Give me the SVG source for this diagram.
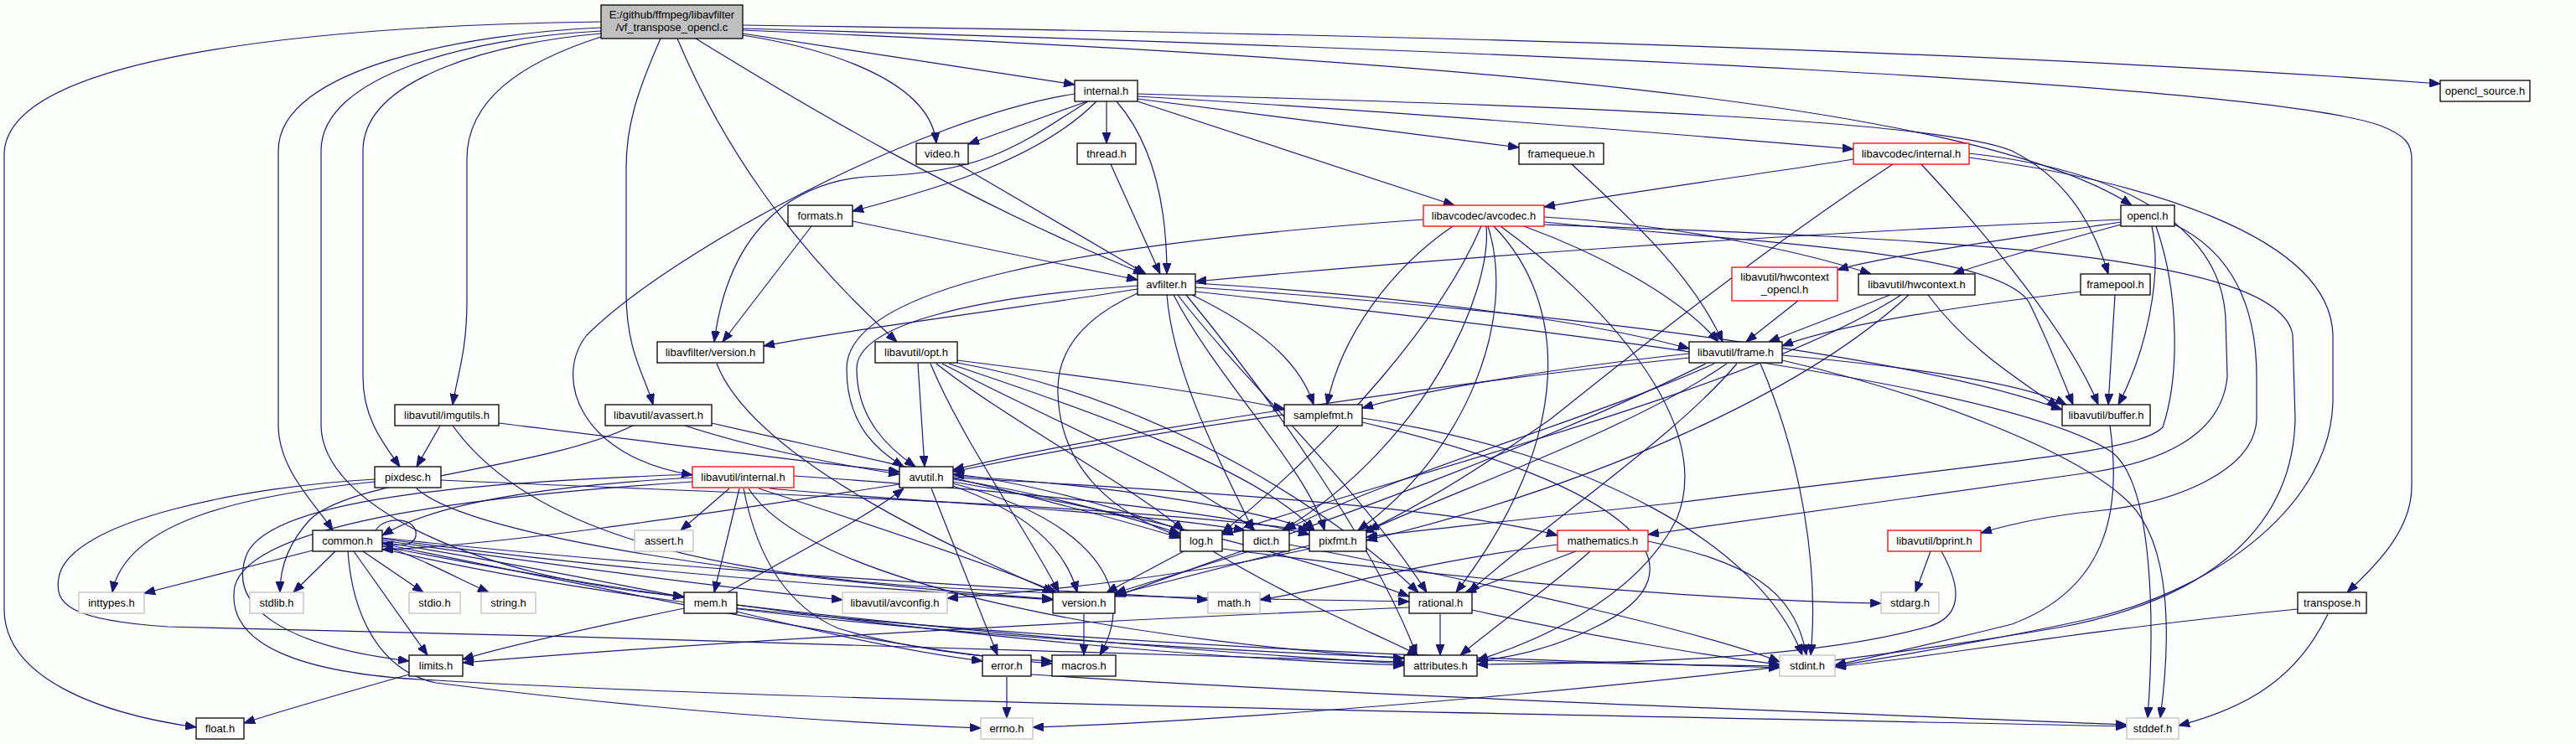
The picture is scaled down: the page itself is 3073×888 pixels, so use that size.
<svg xmlns="http://www.w3.org/2000/svg" width="3073" height="888" viewBox="0 0 3073 888">
<style>
.bg{fill:#fcfefc}
.e{fill:none;stroke:#191970;stroke-width:1.2;marker-end:url(#a)}
.n{fill:#ffffff;stroke:#000000;stroke-width:1.3}
.g{fill:#ffffff;stroke:#bfbfbf;stroke-width:1.3}
.r{fill:#ffffff;stroke:#ff0000;stroke-width:1.3}
.rt{fill:#bfbfbf;stroke:#000000;stroke-width:1.3}
text{font-family:"Liberation Sans",Arial,sans-serif;font-size:13px;fill:#000000;text-anchor:middle}
</style>
<defs>
<marker id="a" markerUnits="userSpaceOnUse" markerWidth="13" markerHeight="10" refX="13" refY="5" orient="auto">
<path d="M0,0 L13,5 L0,10 Z" fill="#191970" stroke="#191970" stroke-width="1"/>
</marker>
</defs>
<rect class="bg" x="0" y="0" width="3073" height="888"/>
<g id="connectors">
<path class="e" d="M717,26 C420,30 5,60 5,185 L5,727 C5,810 120,852 234,868"/>
<path class="e" d="M717,33 C560,40 332,80 332,180 L332,507 C332,560 375,600 397,633"/>
<path class="e" d="M717,40 C600,50 433,90 433,180 L433,450 C433,500 458,530 477,557"/>
<path class="e" d="M717,37 C560,45 383,90 383,180 L383,507 C383,600 560,690 816,712"/>
<path class="e" d="M717,44 C620,75 557,120 557,190 L557,360 C557,420 545,450 540,483"/>
<path class="e" d="M788,46 C760,110 747,150 747,200 L747,350 C747,420 770,450 779,483"/>
<path class="e" d="M808,46 C860,170 940,290 1070,408"/>
<path class="e" d="M830,46 C950,120 1150,240 1365,327"/>
<path class="e" d="M886,42 C1000,60 1110,100 1117,171"/>
<path class="e" d="M886,40 L1282,101"/>
<path class="e" d="M886,30 C1500,38 2300,55 2911,100"/>
<path class="e" d="M886,36 C1700,70 2350,120 2543,245"/>
<path class="e" d="M886,34 C1800,60 2700,100 2840,150 C2870,162 2877,172 2877,190 L2877,580 C2877,630 2840,670 2800,707"/>
<path class="e" d="M1357,115 C1700,135 2000,160 2211,178"/>
<path class="e" d="M1357,112 C1800,125 2300,140 2400,180 C2460,210 2495,260 2515,327"/>
<path class="e" d="M1357,118 L1812,176"/>
<path class="e" d="M1357,121 L1735,245"/>
<path class="e" d="M1320,121 L1320,171"/>
<path class="e" d="M1332,121 C1370,165 1392,230 1392,327"/>
<path class="e" d="M1297,121 L1155,172"/>
<path class="e" d="M1308,121 C1240,190 1120,225 1017,252"/>
<path class="e" d="M1298,121 C1220,170 1180,205 1050,210 C950,212 870,270 852,408"/>
<path class="e" d="M1282,112 C1100,140 800,300 700,400 C660,450 690,545 826,567"/>
<path class="e" d="M1143,196 L1367,327"/>
<path class="e" d="M1325,196 L1384,327"/>
<path class="e" d="M1017,264 L1357,334"/>
<path class="e" d="M968,270 L862,408"/>
<path class="e" d="M1875,196 C1950,265 2020,330 2055,408"/>
<path class="e" d="M2211,190 C2100,208 1950,228 1842,247"/>
<path class="e" d="M2258,196 C2100,300 1950,420 1850,500 C1750,570 1680,610 1632,633"/>
<path class="e" d="M2292,196 C2370,280 2470,400 2503,483"/>
<path class="e" d="M2349,183 C2550,205 2650,280 2655,380 L2657,450 C2650,520 2580,550 2500,563 C2300,590 2100,620 1966,638"/>
<path class="e" d="M2349,188 C2550,215 2780,280 2783,400 L2783,480 C2780,600 2650,700 2500,737 C2400,760 2250,785 2189,795"/>
<path class="e" d="M1698,262 C1300,290 1010,340 1010,440 C1010,510 1050,540 1078,557"/>
<path class="e" d="M1733,270 C1660,320 1600,400 1583,483"/>
<path class="e" d="M1767,270 C1720,380 1600,520 1458,636"/>
<path class="e" d="M1773,270 C1780,350 1700,530 1530,633"/>
<path class="e" d="M1775,270 C1810,380 1750,540 1620,633"/>
<path class="e" d="M1782,270 C1870,360 1880,520 1737,707"/>
<path class="e" d="M1790,270 C1900,350 2050,500 2000,620 C1950,720 1820,770 1762,788"/>
<path class="e" d="M1818,270 C1900,300 2000,350 2050,408"/>
<path class="e" d="M1842,259 C2000,268 2150,300 2232,327"/>
<path class="e" d="M1842,265 C2100,290 2380,300 2420,360 C2440,400 2460,450 2473,483"/>
<path class="e" d="M1842,268 C2300,285 2720,300 2735,400 L2738,500 C2735,640 2620,720 2450,750 C2100,810 1500,860 1232,868"/>
<path class="e" d="M2530,262 C2100,280 1700,310 1426,336"/>
<path class="e" d="M2530,265 C2400,285 2250,305 2192,322"/>
<path class="e" d="M2530,268 C2450,290 2380,310 2330,327"/>
<path class="e" d="M2567,270 C2580,330 2560,420 2527,483"/>
<path class="e" d="M2572,270 C2600,350 2600,450 2580,510 C2550,540 2400,550 2000,600 C1800,622 1700,632 1630,641"/>
<path class="e" d="M2594,268 C2660,300 2692,360 2692,450 L2692,500 C2690,560 2600,600 2500,610 C2450,615 2400,625 2363,636"/>
<path class="e" d="M1357,345 C1200,370 1000,395 911,413"/>
<path class="e" d="M1357,341 C1150,355 1022,390 1022,440 C1022,500 1060,535 1092,557"/>
<path class="e" d="M1357,350 C1290,380 1260,420 1262,470 C1265,560 1330,615 1408,640"/>
<path class="e" d="M1422,352 C1500,390 1550,430 1567,483"/>
<path class="e" d="M1392,352 C1400,450 1460,560 1495,633"/>
<path class="e" d="M1400,352 C1450,450 1560,560 1580,633"/>
<path class="e" d="M1405,352 C1480,450 1620,580 1702,707"/>
<path class="e" d="M1415,352 C1520,480 1640,650 1690,782"/>
<path class="e" d="M1426,338 C1700,355 1900,385 2015,416"/>
<path class="e" d="M1426,343 C1900,375 2300,430 2460,489"/>
<path class="e" d="M1426,348 C1900,400 2400,460 2520,540 C2570,580 2570,750 2562,857"/>
<path class="e" d="M2145,359 L2083,408"/>
<path class="e" d="M2255,352 L2110,408"/>
<path class="e" d="M2268,352 C2100,460 1700,560 1458,638"/>
<path class="e" d="M2277,352 C2150,470 1900,580 1630,645"/>
<path class="e" d="M2300,352 C2350,420 2420,460 2455,486"/>
<path class="e" d="M2523,352 L2515,483"/>
<path class="e" d="M2482,348 C2300,370 2180,392 2126,413"/>
<path class="e" d="M855,434 C900,550 1150,660 1257,707"/>
<path class="e" d="M1095,434 L1103,557"/>
<path class="e" d="M1142,430 C1300,450 1450,470 1532,488"/>
<path class="e" d="M1110,434 C1150,530 1230,640 1263,707"/>
<path class="e" d="M1117,434 C1200,500 1350,580 1412,633"/>
<path class="e" d="M1124,434 C1250,500 1420,570 1497,633"/>
<path class="e" d="M1132,434 C1300,490 1500,560 1568,633"/>
<path class="e" d="M1142,433 C1400,480 1600,620 1692,707"/>
<path class="e" d="M2126,424 C2300,440 2420,460 2465,483"/>
<path class="e" d="M2015,422 C1850,440 1700,465 1625,487"/>
<path class="e" d="M2015,427 C1700,460 1300,520 1137,561"/>
<path class="e" d="M2045,434 C1900,500 1650,570 1533,633"/>
<path class="e" d="M2060,434 C1950,510 1750,580 1626,636"/>
<path class="e" d="M2072,434 C2000,520 1850,620 1752,707"/>
<path class="e" d="M2035,434 C1800,550 1500,650 1330,712"/>
<path class="e" d="M2100,434 C2150,550 2170,680 2160,782"/>
<path class="e" d="M2126,430 C2300,470 2480,540 2540,600 C2590,650 2590,760 2577,857"/>
<path class="e" d="M525,508 L497,557"/>
<path class="e" d="M595,505 C800,530 950,550 1073,563"/>
<path class="e" d="M540,508 C620,620 800,680 1100,700 C1350,715 1550,715 1681,718"/>
<path class="e" d="M755,508 C650,560 420,570 370,620 C342,650 334,680 334,707"/>
<path class="e" d="M817,508 C900,535 1000,555 1073,566"/>
<path class="e" d="M849,505 C1000,540 1200,580 1408,642"/>
<path class="e" d="M1532,495 C1350,520 1200,550 1137,563"/>
<path class="e" d="M1625,499 C1900,540 2100,650 2150,782"/>
<path class="e" d="M1625,504 C1950,580 2050,680 1900,750 C1850,775 1800,785 1762,789"/>
<path class="e" d="M2517,508 C2530,600 2520,700 2400,745 C2300,770 2230,785 2189,794"/>
<path class="e" d="M447,575 C300,590 150,620 134,707"/>
<path class="e" d="M526,573 C900,590 1300,600 1562,633"/>
<path class="e" d="M497,583 C560,640 900,690 1256,715"/>
<path class="e" d="M447,572 C300,580 80,620 70,690 C65,720 80,740 200,748 C700,760 1300,775 1675,790"/>
<path class="e" d="M826,570 C650,580 520,600 456,639"/>
<path class="e" d="M870,583 L812,633"/>
<path class="e" d="M882,583 L852,707"/>
<path class="e" d="M918,583 C1100,600 1350,610 1485,633"/>
<path class="e" d="M905,583 C1050,630 1200,680 1260,707"/>
<path class="e" d="M893,583 C960,690 1300,760 1675,786"/>
<path class="e" d="M887,583 C900,650 930,720 1000,750 C1100,780 1200,786 1255,789"/>
<path class="e" d="M947,568 C1200,585 1450,610 1562,638"/>
<path class="e" d="M826,566 C600,575 330,590 295,660 C270,720 330,770 488,789"/>
<path class="e" d="M826,575 C600,590 300,620 280,700 C268,770 360,805 520,812 C1000,840 2000,855 2537,867"/>
<path class="e" d="M1073,578 C800,620 600,650 456,656"/>
<path class="e" d="M1111,583 L1190,782"/>
<path class="e" d="M1137,580 C1220,610 1270,650 1285,707"/>
<path class="e" d="M1137,577 C1300,620 1360,700 1312,782"/>
<path class="e" d="M1137,572 C1250,590 1350,618 1408,637"/>
<path class="e" d="M1137,575 C1400,620 1600,680 1681,712"/>
<path class="e" d="M1137,570 C1500,590 1750,610 1858,639"/>
<path class="e" d="M1137,568 C1350,580 1500,610 1566,633"/>
<path class="e" d="M1410,633 C1300,595 1200,572 1137,566"/>
<path class="e" d="M1412,658 L1320,707"/>
<path class="e" d="M1447,658 C1550,720 1650,760 1692,782"/>
<path class="e" d="M1458,655 C1800,700 2100,718 2244,720"/>
<path class="e" d="M1490,658 L1330,708"/>
<path class="e" d="M1538,650 C1800,700 2050,760 2123,790"/>
<path class="e" d="M1562,655 C1400,690 1250,705 1130,714"/>
<path class="e" d="M1566,650 C1450,680 1380,697 1330,710"/>
<path class="e" d="M1858,650 C1700,670 1600,700 1503,716"/>
<path class="e" d="M1880,658 L1748,707"/>
<path class="e" d="M1897,658 C1850,700 1780,750 1742,782"/>
<path class="e" d="M1966,646 C2080,670 2140,700 2155,782"/>
<path class="e" d="M2303,658 L2285,707"/>
<path class="e" d="M2316,658 C2345,710 2335,738 2300,748 C2150,790 1900,792 1762,793"/>
<path class="e" d="M816,726 C700,750 600,772 552,787"/>
<path class="e" d="M868,707 C950,660 1030,620 1078,583"/>
<path class="e" d="M879,722 C1200,760 1500,782 1675,792"/>
<path class="e" d="M879,726 C1400,778 1900,790 2123,797"/>
<path class="e" d="M879,730 C1000,760 1100,780 1172,789"/>
<path class="e" d="M448,633 C460,614 500,618 496,640 C493,652 475,652 456,648"/>
<path class="e" d="M373,657 L172,708"/>
<path class="e" d="M400,658 L350,707"/>
<path class="e" d="M422,658 L510,782"/>
<path class="e" d="M433,658 L505,707"/>
<path class="e" d="M415,658 C420,730 450,800 520,815 C800,850 1000,862 1170,869"/>
<path class="e" d="M456,651 C500,665 545,690 583,707"/>
<path class="e" d="M456,647 C600,670 750,700 816,713"/>
<path class="e" d="M456,645 C700,680 900,705 1005,716"/>
<path class="e" d="M456,643 C800,690 1100,705 1256,716"/>
<path class="e" d="M456,642 C900,690 1300,705 1441,716"/>
<path class="e" d="M456,649 C800,720 1100,780 1255,792"/>
<path class="e" d="M456,652 C900,740 1400,785 1675,794"/>
<path class="e" d="M456,655 C900,760 1600,790 2123,795"/>
<path class="e" d="M1718,733 L1718,782"/>
<path class="e" d="M1681,725 C1200,745 800,770 552,791"/>
<path class="e" d="M1756,728 C1900,760 2050,785 2123,793"/>
<path class="e" d="M1293,733 L1293,782"/>
<path class="e" d="M1201,808 L1201,857"/>
<path class="e" d="M1230,805 C1600,830 2300,855 2537,865"/>
<path class="e" d="M488,805 C400,830 330,850 291,863"/>
<path class="e" d="M2741,727 C2500,750 2300,785 2189,796"/>
<path class="e" d="M2777,733 C2740,810 2680,845 2599,866"/>
</g>
<g id="root"><rect class="rt" x="717" y="6" width="169" height="40"/><text x="801.5" y="22">E:/github/ffmpeg/libavfilter</text><text x="801.5" y="37">/vf_transpose_opencl.c</text></g>
<g id="internal_h"><rect class="n" x="1282" y="96" width="75" height="25"/><text x="1319.5" y="113">internal.h</text></g>
<g id="opencl_source_h"><rect class="n" x="2911" y="96" width="107" height="25"/><text x="2964.5" y="113">opencl_source.h</text></g>
<g id="video_h"><rect class="n" x="1093" y="171" width="62" height="25"/><text x="1124" y="188">video.h</text></g>
<g id="thread_h"><rect class="n" x="1285" y="171" width="70" height="25"/><text x="1320" y="188">thread.h</text></g>
<g id="framequeue_h"><rect class="n" x="1812" y="171" width="101" height="25"/><text x="1862.5" y="188">framequeue.h</text></g>
<g id="lavc_internal_h"><rect class="r" x="2211" y="171" width="138" height="25"/><text x="2280" y="188">libavcodec/internal.h</text></g>
<g id="formats_h"><rect class="n" x="940" y="245" width="77" height="25"/><text x="978.5" y="262">formats.h</text></g>
<g id="avcodec_h"><rect class="r" x="1698" y="245" width="144" height="25"/><text x="1770" y="262">libavcodec/avcodec.h</text></g>
<g id="opencl_h"><rect class="n" x="2530" y="245" width="64" height="25"/><text x="2562" y="262">opencl.h</text></g>
<g id="avfilter_h"><rect class="n" x="1357" y="327" width="69" height="25"/><text x="1391.5" y="344">avfilter.h</text></g>
<g id="hwcontext_opencl_h"><rect class="r" x="2066" y="319" width="126" height="40"/><text x="2129" y="335">libavutil/hwcontext</text><text x="2129" y="350">_opencl.h</text></g>
<g id="hwcontext_h"><rect class="n" x="2217" y="327" width="139" height="25"/><text x="2286.5" y="344">libavutil/hwcontext.h</text></g>
<g id="framepool_h"><rect class="n" x="2482" y="327" width="83" height="25"/><text x="2523.5" y="344">framepool.h</text></g>
<g id="lavfi_version_h"><rect class="n" x="784" y="408" width="127" height="25"/><text x="847.5" y="425">libavfilter/version.h</text></g>
<g id="opt_h"><rect class="n" x="1044" y="408" width="98" height="25"/><text x="1093" y="425">libavutil/opt.h</text></g>
<g id="frame_h"><rect class="n" x="2015" y="408" width="111" height="25"/><text x="2070.5" y="425">libavutil/frame.h</text></g>
<g id="imgutils_h"><rect class="n" x="471" y="483" width="124" height="25"/><text x="533" y="500">libavutil/imgutils.h</text></g>
<g id="avassert_h"><rect class="n" x="722" y="483" width="127" height="25"/><text x="785.5" y="500">libavutil/avassert.h</text></g>
<g id="samplefmt_h"><rect class="n" x="1532" y="483" width="93" height="25"/><text x="1578.5" y="500">samplefmt.h</text></g>
<g id="buffer_h"><rect class="n" x="2460" y="483" width="105" height="25"/><text x="2512.5" y="500">libavutil/buffer.h</text></g>
<g id="pixdesc_h"><rect class="n" x="447" y="557" width="79" height="25"/><text x="486.5" y="574">pixdesc.h</text></g>
<g id="lavu_internal_h"><rect class="r" x="826" y="557" width="121" height="25"/><text x="886.5" y="574">libavutil/internal.h</text></g>
<g id="avutil_h"><rect class="n" x="1073" y="557" width="64" height="25"/><text x="1105" y="574">avutil.h</text></g>
<g id="common_h"><rect class="n" x="373" y="633" width="83" height="25"/><text x="414.5" y="650">common.h</text></g>
<g id="assert_h"><rect class="g" x="757" y="633" width="70" height="25"/><text x="792" y="650">assert.h</text></g>
<g id="log_h"><rect class="n" x="1408" y="633" width="50" height="25"/><text x="1433" y="650">log.h</text></g>
<g id="dict_h"><rect class="n" x="1483" y="633" width="55" height="25"/><text x="1510.5" y="650">dict.h</text></g>
<g id="pixfmt_h"><rect class="n" x="1562" y="633" width="68" height="25"/><text x="1596" y="650">pixfmt.h</text></g>
<g id="mathematics_h"><rect class="r" x="1858" y="633" width="108" height="25"/><text x="1912" y="650">mathematics.h</text></g>
<g id="bprint_h"><rect class="r" x="2252" y="633" width="111" height="25"/><text x="2307.5" y="650">libavutil/bprint.h</text></g>
<g id="inttypes_h"><rect class="g" x="94" y="707" width="78" height="25"/><text x="133" y="724">inttypes.h</text></g>
<g id="stdlib_h"><rect class="g" x="298" y="707" width="64" height="25"/><text x="330" y="724">stdlib.h</text></g>
<g id="stdio_h"><rect class="g" x="488" y="707" width="61" height="25"/><text x="518.5" y="724">stdio.h</text></g>
<g id="string_h"><rect class="g" x="574" y="707" width="65" height="25"/><text x="606.5" y="724">string.h</text></g>
<g id="mem_h"><rect class="n" x="816" y="707" width="63" height="25"/><text x="847.5" y="724">mem.h</text></g>
<g id="avconfig_h"><rect class="g" x="1005" y="707" width="125" height="25"/><text x="1067.5" y="724">libavutil/avconfig.h</text></g>
<g id="version_h"><rect class="n" x="1256" y="707" width="74" height="25"/><text x="1293" y="724">version.h</text></g>
<g id="math_h"><rect class="g" x="1441" y="707" width="62" height="25"/><text x="1472" y="724">math.h</text></g>
<g id="rational_h"><rect class="n" x="1681" y="707" width="75" height="25"/><text x="1718.5" y="724">rational.h</text></g>
<g id="stdarg_h"><rect class="g" x="2244" y="707" width="69" height="25"/><text x="2278.5" y="724">stdarg.h</text></g>
<g id="transpose_h"><rect class="n" x="2741" y="707" width="82" height="25"/><text x="2782" y="724">transpose.h</text></g>
<g id="limits_h"><rect class="n" x="488" y="782" width="64" height="25"/><text x="520" y="799">limits.h</text></g>
<g id="error_h"><rect class="n" x="1172" y="782" width="58" height="25"/><text x="1201" y="799">error.h</text></g>
<g id="macros_h"><rect class="n" x="1255" y="782" width="76" height="25"/><text x="1293" y="799">macros.h</text></g>
<g id="attributes_h"><rect class="n" x="1675" y="782" width="87" height="25"/><text x="1718.5" y="799">attributes.h</text></g>
<g id="stdint_h"><rect class="g" x="2123" y="782" width="66" height="25"/><text x="2156" y="799">stdint.h</text></g>
<g id="float_h"><rect class="n" x="234" y="857" width="57" height="25"/><text x="262.5" y="874">float.h</text></g>
<g id="errno_h"><rect class="g" x="1170" y="857" width="62" height="25"/><text x="1201" y="874">errno.h</text></g>
<g id="stddef_h"><rect class="g" x="2537" y="857" width="62" height="25"/><text x="2568" y="874">stddef.h</text></g>
</svg>
